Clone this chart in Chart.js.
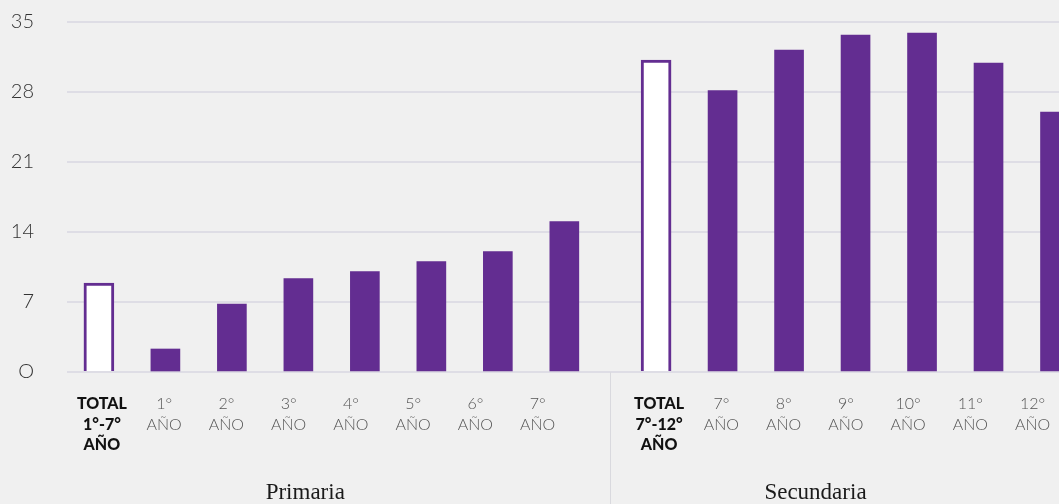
<!DOCTYPE html>
<html>
<head>
<meta charset="utf-8">
<script src="https://cdn.jsdelivr.net/npm/chart.js@4"></script>
<style>
  html, body { margin: 0; padding: 0; background: #f0f0f0; overflow: hidden; }
  #wrap { position: relative; width: 1059px; height: 504px; }
</style>
</head>
<body>
<div id="wrap"><canvas id="myChart"></canvas></div>
<script>
// data
const primariaLabels = [['TOTAL', '1°-7°', 'AÑO'], ['1°', 'AÑO'], ['2°', 'AÑO'], ['3°', 'AÑO'], ['4°', 'AÑO'], ['5°', 'AÑO'], ['6°', 'AÑO'], ['7°', 'AÑO']];
const secundariaLabels = [['TOTAL', '7°-12°', 'AÑO'], ['7°', 'AÑO'], ['8°', 'AÑO'], ['9°', 'AÑO'], ['10°', 'AÑO'], ['11°', 'AÑO'], ['12°', 'AÑO']];
const primariaTotal = 8.9;
const primariaValues = [2.3, 6.8, 9.35, 10.05, 11.05, 12.05, 15.05];
const secundariaTotal = 31.2;
const secundariaValues = [28.15, 32.2, 33.7, 33.9, 30.9, 26.0];
const groupTitles = ['Primaria', 'Secundaria'];
const yTicks = [0, 7, 14, 21, 28, 35];

const SEC_START = 8.38; // where the second group starts on the x scale
const purple = '#632d91';

const totals = [
  { x: 0, y: primariaTotal },
  { x: SEC_START, y: secundariaTotal },
];
const years = primariaValues.map((v, i) => ({ x: i + 1, y: v }))
  .concat(secundariaValues.map((v, i) => ({ x: SEC_START + i + 1, y: v })));

// x labels, divider and group titles
const labelsPlugin = {
  id: 'groupLabels',
  afterDraw(chart) {
    const ctx = chart.ctx;
    const xs = chart.scales.x;
    const area = chart.chartArea;
    const step = 62.25;
    const groups = [
      { start: 0, labels: primariaLabels },
      { start: SEC_START, labels: secundariaLabels },
    ];
    ctx.save();
    ctx.textAlign = 'center';
    ctx.textBaseline = 'middle';
    groups.forEach((g) => {
      const first = xs.getPixelForValue(g.start) + 3;
      g.labels.forEach((lines, i) => {
        const bold = lines[0] === 'TOTAL';
        ctx.font = bold ? '900 16px Lato' : '300 16px Lato';
        ctx.fillStyle = bold ? '#111' : '#555';
        lines.forEach((t, j) => {
          ctx.fillText(t, first + i * step, area.bottom + 32 + j * 20.5);
        });
      });
    });

    // divider between groups
    const divX = Math.round((xs.getPixelForValue(7) + xs.getPixelForValue(SEC_START)) / 2) + 0.5;
    ctx.strokeStyle = '#d9d9de';
    ctx.lineWidth = 1;
    ctx.beginPath();
    ctx.moveTo(divX, area.bottom);
    ctx.lineTo(divX, chart.height);
    ctx.stroke();

    ctx.font = '23px "Liberation Serif"';
    ctx.fillStyle = '#1a1a1a';
    ctx.textBaseline = 'alphabetic';
    ctx.fillText(groupTitles[0], divX / 2, 499);
    ctx.fillText(groupTitles[1], divX + 205, 499);
    ctx.restore();
  },
};

const ctx = document.getElementById('myChart').getContext('2d');
new Chart(ctx, {
  type: 'bar',
  data: {
    datasets: [
      {
        label: 'Total',
        data: totals,
        backgroundColor: '#ffffff',
        borderColor: purple,
        borderWidth: 3,
        barThickness: 30,
        grouped: false,
      },
      {
        label: 'Año',
        data: years,
        backgroundColor: purple,
        borderWidth: 0,
        barThickness: 29,
        grouped: false,
      },
    ],
  },
  options: {
    responsive: true,
    maintainAspectRatio: false,
    animation: false,
    layout: { padding: { top: 22, bottom: 132, left: 0, right: 0 } },
    plugins: {
      legend: { display: false },
      tooltip: { enabled: false },
    },
    scales: {
      x: {
        type: 'linear',
        display: false,
        offset: false,
        min: -0.48,
        max: 14.44,
      },
      y: {
        min: 0,
        max: 35,
        afterBuildTicks: (s) => { s.ticks = yTicks.map((v) => ({ value: v })); },
        afterFit: (s) => {
          s.width = 67;
          s.paddingTop = 0;
          s.paddingBottom = 0;
        },
        border: { display: false },
        grid: { color: '#dedde5', lineWidth: 2, drawTicks: false },
        ticks: {
          padding: 33,
          color: '#333',
          font: { family: 'Lato', size: 20, weight: 300 },
          callback: (v) => (v === 0 ? 'O' : v),
        },
      },
    },
  },
  plugins: [labelsPlugin],
});
</script>
</body>
</html>
